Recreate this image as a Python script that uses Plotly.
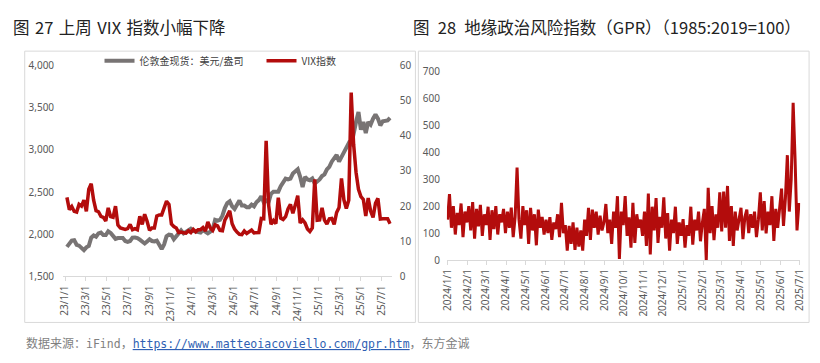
import plotly.graph_objects as go
import pandas as pd

# ---------------- Left chart data (weekly, Fridays) ----------------
gold_2023 = [1850, 1898, 1925, 1930, 1875, 1865, 1838, 1812, 1845, 1862, 1960, 1985, 1970,
             2010, 2020, 1990, 1990, 2035, 2015, 1970, 1945, 1955, 1960, 1955, 1920, 1910,
             1920, 1960, 1962, 1955, 1935, 1915, 1890, 1915, 1940, 1920, 1915, 1925, 1865,
             1825, 1880, 1975, 1995, 1990, 1940, 1980, 2000, 2045, 2010, 2030, 2050, 2065]
gold_2024 = [2040, 2035, 2025, 2020, 2050, 2030, 2010, 2030, 2060, 2170, 2160, 2170, 2220,
             2310, 2370, 2390, 2330, 2300, 2350, 2400, 2340, 2340, 2320, 2320, 2350, 2330,
             2380, 2405, 2450, 2380, 2400, 2380, 2480, 2505, 2505, 2505, 2570, 2610, 2660,
             2650, 2660, 2720, 2740, 2770, 2680, 2560, 2680, 2650, 2640, 2660, 2600, 2620]
gold_2025 = [2650, 2690, 2710, 2770, 2800, 2860, 2900, 2940, 2860, 2910, 2980, 3030, 3080,
             3050, 3220, 3330, 3450, 3240, 3330, 3200, 3330, 3300, 3370, 3420, 3370, 3290,
             3340, 3340, 3350, 3380]

vix_2023 = [22.5, 19.0, 19.9, 18.5, 18.3, 20.5, 20.0, 21.7, 18.5, 24.8, 26.4, 21.7, 18.7,
            18.4, 17.1, 16.8, 15.8, 19.5, 17.0, 16.8, 20.0, 14.6, 13.8, 13.5, 13.4, 13.6,
            14.8, 13.3, 13.6, 13.3, 17.1, 14.8, 17.7, 15.7, 13.1, 13.8, 13.8, 17.2, 17.5,
            17.5, 19.3, 21.4, 20.5, 14.9, 14.2, 13.8, 12.5, 12.6, 12.4, 12.3, 13.0, 12.5]
vix_2024 = [13.4, 12.7, 13.3, 13.3, 13.9, 12.9, 15.5, 13.8, 13.1, 14.7, 14.4, 13.1, 13.0,
            16.0, 17.3, 18.7, 15.0, 13.5, 12.6, 12.0, 11.9, 12.9, 12.2, 12.7, 13.2, 12.4,
            12.5, 12.5, 16.5, 16.4, 38.6, 20.4, 14.8, 15.9, 15.0, 22.4, 16.6, 16.2, 17.0,
            19.2, 20.5, 18.0, 20.3, 23.0, 15.2, 16.1, 15.2, 13.5, 12.8, 13.8, 27.6, 16.0]
vix_2025 = [16.1, 19.5, 16.0, 14.9, 16.4, 16.5, 14.8, 18.2, 19.6, 27.9, 21.8, 19.3, 21.7,
            52.3, 37.6, 29.6, 24.8, 22.7, 21.9, 17.2, 22.3, 18.6, 16.8, 20.8, 22.2, 16.3,
            16.4, 16.4, 16.4, 15.0]

left_ticks = ["2023-01-01", "2023-03-01", "2023-05-01", "2023-07-01", "2023-09-01",
              "2023-11-01", "2024-01-01", "2024-03-01", "2024-05-01", "2024-07-01",
              "2024-09-01", "2024-11-01", "2025-01-01", "2025-03-01", "2025-05-01",
              "2025-07-01"]
left_ticktext = ["23/1/1", "23/3/1", "23/5/1", "23/7/1", "23/9/1", "23/11/1", "24/1/1",
                 "24/3/1", "24/5/1", "24/7/1", "24/9/1", "24/11/1", "25/1/1", "25/3/1",
                 "25/5/1", "25/7/1"]

# ---------------- Right chart data (every 3 days) ----------------
gpr_2024 = [150, 245, 120, 200, 95, 175, 130, 210, 85, 180, 140,
            200, 110, 215, 80, 190, 125, 205, 90, 170,
            130, 198, 75, 185, 115, 200, 95, 170, 140, 190, 100,
            180, 120, 195, 85, 160, 343, 150, 80, 200, 130,
            185, 60, 194, 110, 170, 55, 187, 120, 160, 95,
            150, 100, 159, 75, 140, 115, 170, 85, 212, 100,
            130, 35, 127, 60, 140, 38, 120, 50, 110, 35,
            150, 90, 194, 75, 187, 120, 180, 95, 165, 110, 140,
            208, 100, 150, 60, 180, 120, 237, 4, 180, 130,
            237, 90, 159, 46, 212, 64, 170, 120, 150, 90,
            180, 53, 247, 21, 198, 110, 230, 64, 160, 120,
            233, 80, 174, 35, 150, 100, 198, 60, 140, 90]
gpr_2025 = [152, 46, 130, 90, 198, 57, 150, 110, 180, 70, 140,
            190, 0, 268, 100, 200, 74, 170, 120, 251,
            106, 254, 120, 275, 71, 200, 53, 180, 110, 150,
            194, 78, 160, 187, 100, 170, 120, 180, 85, 150,
            251, 110, 219, 99, 180, 130, 237, 71, 190, 120, 200,
            265, 127, 230, 389, 180, 300, 583, 375, 110, 212]

right_ticks = ["2024-%02d-01" % m for m in range(1, 13)] + ["2025-%02d-01" % m for m in range(1, 8)]
right_ticktext = ["2024/%d/1" % m for m in range(1, 13)] + ["2025/%d/1" % m for m in range(1, 8)]

left_dates = pd.date_range("2023-01-06", periods=len(gold_2023) + len(gold_2024) + len(gold_2025), freq="7D")
gpr_vals = gpr_2024 + gpr_2025
gpr_dates = pd.date_range("2024-01-01", periods=len(gpr_vals), freq="3D")

GRAY = "#787474"
RED = "#B30C0C"
TICKC = "#595959"
AXC = "#D9D9D9"
W, H = 820, 363
SP = "\u2004"
SP2 = "\u2002"

def px(x):
    return x / W

def py(y):
    return (H - y) / H

fig = go.Figure()
fig.add_trace(go.Scatter(x=left_dates, y=gold_2023 + gold_2024 + gold_2025, mode="lines",
                         name="伦敦金现货：美元/盎司", line=dict(color=GRAY, width=4),
                         xaxis="x", yaxis="y"))
fig.add_trace(go.Scatter(x=left_dates, y=vix_2023 + vix_2024 + vix_2025, mode="lines",
                         name="VIX指数", line=dict(color=RED, width=3.5),
                         xaxis="x", yaxis="y2"))
fig.add_trace(go.Scatter(x=gpr_dates, y=gpr_vals, mode="lines", showlegend=False,
                         name="GPR", line=dict(color=RED, width=3),
                         xaxis="x2", yaxis="y3"))

tickfont = dict(family="Noto Sans", size=10, color=TICKC)
mono = "font-family:DejaVu Sans Mono;font-size:11.5px"

fig.update_layout(
    width=W, height=H, margin=dict(l=0, r=0, t=0, b=0),
    paper_bgcolor="white", plot_bgcolor="white",
    font=dict(family="Noto Sans CJK SC", color=TICKC),
    xaxis=dict(domain=[px(57), px(391)], type="date", anchor="y",
               range=["2022-12-26", "2025-07-30"],
               tickmode="array", tickvals=left_ticks, ticktext=left_ticktext,
               tickangle=-90, tickfont=tickfont, showgrid=False, zeroline=False,
               showline=True, linecolor=AXC, linewidth=1,
               ticks="outside", ticklen=4, tickcolor=AXC),
    yaxis=dict(domain=[py(280), py(60)], range=[1500, 4000], dtick=500, tickformat=",",
               tickfont=tickfont, showgrid=False, zeroline=False, showline=False,
               ticklabelstandoff=8),
    yaxis2=dict(overlaying="y", side="right", anchor="x", range=[0, 60], dtick=10,
                tickfont=tickfont, showgrid=False, zeroline=False, showline=False,
                ticklabelstandoff=7),
    xaxis2=dict(domain=[px(447), px(806)], type="date", anchor="y3",
                range=["2023-12-31", "2025-07-02"],
                tickmode="array", tickvals=right_ticks, ticktext=right_ticktext,
                tickangle=-90, tickfont=tickfont, showgrid=False, zeroline=False,
                showline=True, linecolor=AXC, linewidth=1,
                ticks="outside", ticklen=4, tickcolor=AXC),
    yaxis3=dict(domain=[py(263), py(66)], anchor="x2", range=[0, 700], dtick=100,
                tickfont=tickfont, showgrid=False, zeroline=False, showline=False,
                ticklabelstandoff=6),
    legend=dict(orientation="h", x=px(94), xanchor="left", y=py(55), yanchor="middle",
                font=dict(family="Noto Sans CJK SC", size=10, color="#404040"),
                bgcolor="rgba(0,0,0,0)", itemwidth=30,
                entrywidth=117, entrywidthmode="pixels"),
    shapes=[
        dict(type="rect", xref="paper", yref="paper", x0=px(18), x1=px(415),
             y0=py(328), y1=py(45), line=dict(color=AXC, width=1)),
        dict(type="rect", xref="paper", yref="paper", x0=px(418), x1=px(815),
             y0=py(328), y1=py(45), line=dict(color=AXC, width=1)),
    ],
    annotations=[
        dict(text="图" + SP + "27" + SP + "上周" + SP + "VIX" + SP + "指数小幅下降",
             xref="paper", yref="paper",
             x=px(4), y=py(20), xanchor="left", yanchor="middle", showarrow=False,
             font=dict(family="Noto Sans CJK SC", size=16.5, color="#222222")),
        dict(text="图" + SP2 + "28" + SP2 + "地缘政治风险指数（GPR）（1985:2019=100）",
             xref="paper", yref="paper",
             x=px(411), y=py(20), xanchor="left", yanchor="middle", showarrow=False,
             font=dict(family="Noto Sans CJK SC", size=16.5, color="#222222")),
        dict(text="数据来源：<span style='" + mono + "'>iFind</span>，"
                  "<span style='color:#2F5FB3;text-decoration:underline;" + mono + "'>"
                  "https://www.matteoiacoviello.com/gpr.htm</span>，东方金诚",
             xref="paper", yref="paper", x=px(17), y=py(349), xanchor="left", yanchor="middle",
             showarrow=False, font=dict(family="Noto Sans CJK SC", size=12, color="#7F7F7F")),
    ],
)

fig.write_html("out.html", config={"displayModeBar": False},
               post_script="document.body.style.margin='0px';")
